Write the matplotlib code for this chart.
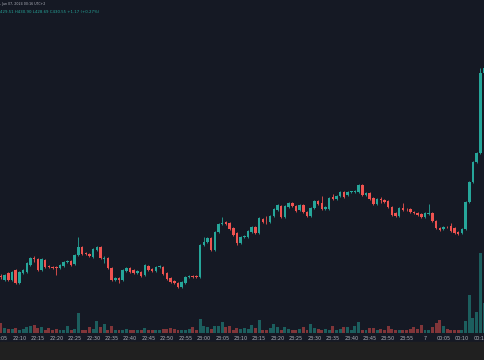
import numpy as np
import pandas as pd
import matplotlib
matplotlib.use("Agg")
import matplotlib.pyplot as plt

# 1-minute candles, first bar at 22:05
start_time = "2024-06-06 22:05"

opens = [12.4, 12.0, 12.7, 12.0, 13.0, 11.7, 12.7, 12.8, 13.5, 14.2,
         14.1, 13.0, 14.0, 13.4, 13.3, 13.3, 13.2, 13.4, 13.8, 13.9,
         13.6, 14.5, 15.3, 14.7, 14.6, 14.3, 15.0, 15.3, 14.1, 14.2,
         13.2, 12.0, 12.2, 12.0, 12.9, 13.2, 13.0, 12.7, 12.8, 12.5,
         13.4, 13.1, 12.9, 13.3, 13.3, 12.7, 12.2, 11.9, 11.7, 11.3,
         11.7, 12.3, 12.4, 12.4, 12.3, 15.5, 15.8, 16.2, 15.0, 16.8,
         17.6, 17.8, 17.7, 17.2, 16.7, 15.7, 16.3, 16.3, 16.8, 17.3,
         16.7, 18.1, 17.8, 17.8, 18.4, 19.0, 19.4, 18.3, 19.3, 19.7,
         19.4, 19.0, 19.5, 18.8, 18.4, 19.2, 19.9, 19.7, 19.1, 19.1,
         20.3, 20.1, 20.4, 20.8, 20.5, 20.8, 20.8, 20.8, 21.5, 20.5,
         20.7, 20.2, 19.6, 20.05, 20.0, 19.9, 19.3, 18.7, 18.4, 19.2,
         19.1, 19.1, 18.8, 18.7, 18.6, 18.3, 18.6, 18.7, 17.9, 17.2,
         17.1, 17.3, 17.4, 17.2, 16.8, 16.7, 17.1, 19.8, 21.8, 23.8,
         24.7, 32.7]
highs = [12.6, 12.6, 12.8, 12.9, 13.1, 12.9, 13.1, 13.8, 14.3, 14.4,
         14.2, 14.2, 14.1, 13.5, 13.4, 13.4, 13.6, 13.9, 14.0, 14.0,
         14.6, 16.3, 15.4, 14.8, 14.7, 15.2, 15.4, 15.4, 14.4, 14.3,
         13.3, 12.3, 12.3, 13.1, 13.3, 13.3, 13.1, 13.0, 12.9, 13.6,
         13.5, 13.2, 13.4, 13.5, 13.4, 12.8, 12.3, 12.0, 11.8, 11.9,
         12.4, 12.5, 12.5, 12.5, 15.6, 16.3, 16.3, 16.3, 16.9, 17.7,
         18.3, 17.9, 17.8, 17.3, 16.8, 16.4, 16.5, 17.0, 17.4, 17.4,
         18.3, 18.2, 18.4, 18.5, 19.2, 19.6, 19.5, 19.5, 19.8, 19.8,
         19.5, 19.6, 19.6, 18.9, 19.3, 20.0, 20.0, 20.4, 19.4, 20.3,
         20.6, 20.5, 20.9, 20.9, 20.9, 20.9, 21.0, 21.6, 21.6, 20.8,
         20.8, 20.3, 20.2, 20.3, 20.1, 20.0, 19.4, 18.8, 19.3, 19.7,
         19.2, 19.2, 18.9, 18.8, 18.7, 18.8, 19.6, 18.8, 18.0, 17.3,
         17.4, 17.4, 17.7, 17.3, 16.9, 17.2, 19.9, 21.9, 23.9, 24.8,
         33.2, 33.6]
lows = [12.1, 11.9, 11.9, 11.9, 11.6, 11.6, 12.6, 12.7, 13.4, 13.8,
        12.9, 12.9, 13.2, 13.2, 13.1, 12.5, 13.1, 13.3, 13.7, 13.4,
        13.5, 14.4, 14.5, 14.5, 14.3, 14.2, 14.9, 14.1, 13.7, 13.1,
        11.9, 11.9, 11.7, 11.9, 12.8, 12.7, 12.6, 12.6, 12.3, 12.4,
        12.9, 12.8, 12.8, 13.2, 12.5, 12.0, 11.7, 11.6, 11.2, 11.2,
        11.6, 12.2, 12.2, 12.2, 12.2, 15.4, 15.7, 14.9, 14.9, 16.7,
        17.5, 17.5, 17.0, 16.4, 15.5, 15.6, 16.2, 16.2, 16.7, 16.6,
        16.6, 17.7, 17.6, 17.7, 18.3, 18.9, 18.2, 18.2, 19.2, 19.3,
        18.8, 18.9, 18.7, 18.3, 18.3, 19.1, 19.5, 19.0, 19.0, 19.0,
        20.0, 20.0, 20.3, 20.2, 20.4, 20.7, 20.7, 20.7, 20.4, 20.4,
        20.0, 19.5, 19.5, 19.7, 19.7, 19.2, 18.4, 18.3, 18.3, 18.9,
        18.9, 18.7, 18.6, 18.4, 18.2, 18.2, 18.5, 17.8, 17.1, 16.9,
        17.0, 17.2, 16.8, 16.6, 16.5, 16.6, 17.0, 19.7, 21.7, 23.7,
        24.6, 32.6]
closes = [12.3, 12.5, 12.0, 12.8, 11.7, 12.8, 13.0, 13.7, 14.2, 14.1,
          13.0, 14.1, 13.3, 13.3, 13.2, 13.2, 13.5, 13.8, 13.9, 13.5,
          14.5, 15.3, 14.6, 14.6, 14.4, 15.1, 15.3, 14.2, 14.2, 13.2,
          12.0, 12.2, 12.0, 13.0, 13.2, 12.8, 12.7, 12.9, 12.4, 13.5,
          13.0, 12.9, 13.3, 13.35, 12.6, 12.1, 11.8, 11.7, 11.3, 11.8,
          12.3, 12.35, 12.3, 12.3, 15.5, 15.8, 16.2, 15.0, 16.8, 17.6,
          17.7, 17.6, 17.1, 16.5, 15.7, 16.3, 16.4, 16.9, 17.3, 16.7,
          18.2, 17.8, 17.75, 18.4, 19.1, 19.5, 18.3, 19.4, 19.7, 19.4,
          18.9, 19.5, 18.8, 18.4, 19.2, 19.9, 19.6, 19.1, 19.3, 20.2,
          20.1, 20.4, 20.8, 20.3, 20.8, 20.85, 20.9, 21.5, 20.5, 20.7,
          20.1, 19.6, 20.1, 20.0, 19.8, 19.3, 18.5, 18.4, 19.2, 19.0,
          19.05, 18.8, 18.7, 18.5, 18.3, 18.7, 18.7, 17.9, 17.2, 17.0,
          17.3, 17.25, 16.9, 16.7, 16.6, 17.1, 19.8, 21.8, 23.8, 24.7,
          32.7, 33.2]
volumes = [10, 5, 4, 4, 5, 3, 4, 6, 7, 8,
           5, 6, 3, 5, 3, 4, 3, 3, 7, 3,
           4, 20, 3, 3, 6, 4, 12, 6, 9, 3,
           7, 3, 3, 3, 4, 3, 3, 3, 3, 5,
           3, 3, 3, 3, 4, 4, 5, 4, 3, 3,
           3, 4, 6, 3, 14, 7, 6, 4, 7, 7,
           11, 6, 7, 3, 5, 4, 5, 4, 8, 5,
           13, 3, 3, 5, 9, 6, 3, 6, 4, 3,
           3, 4, 6, 3, 9, 5, 4, 3, 4, 3,
           7, 3, 4, 6, 6, 3, 7, 11, 3, 3,
           5, 5, 3, 4, 3, 7, 4, 3, 3, 3,
           3, 4, 6, 4, 8, 3, 3, 6, 10, 13,
           7, 4, 3, 3, 3, 3, 12, 38, 15, 21,
           80, 30]

header_line1 = ", Jun 07, 2024 00:16 UTC+2"
header_line2 = "429.51 H430.90 L428.69 C430.55 +1.17 (+0.27%)"

BG = "#151924"
UP = "#26a69a"
DOWN = "#ef5350"
UP_VOL = "#1c5e5e"
DOWN_VOL = "#813539"
TEXT = "#b2b5be"

times = pd.date_range(start_time, periods=len(opens), freq="1min")
x = np.arange(len(opens))
o = np.array(opens)
c = np.array(closes)
up = c >= o
colors = np.where(up, UP, DOWN)
vcolors = np.where(up, UP_VOL, DOWN_VOL)

fig = plt.figure(figsize=(4.85, 3.6), dpi=100, facecolor=BG)

# grey strip at the very bottom of the screenshot
fig.patches.append(plt.Rectangle((0, 0), 1, 18 / 360, transform=fig.transFigure,
                                 color="#202020", zorder=0))

ax = fig.add_axes([0, 27 / 360, 1, 333 / 360])
ax.set_facecolor(BG)
vax = ax.twinx()
ax.set_zorder(vax.get_zorder() + 1)
ax.patch.set_visible(False)

# volume overlay
vax.bar(x, volumes, width=0.8, color=vcolors, linewidth=0)
vax.set_ylim(0, 333)
vax.set_facecolor(BG)

# candles
ax.vlines(x, lows, highs, colors=colors, linewidth=0.6)
body = np.maximum(np.abs(c - o), 0.08)
ax.bar(x, body, bottom=np.minimum(o, c), width=0.68, color=colors, linewidth=0)
ax.set_ylim(6.7, 40)
ax.set_xlim(-0.27, 131.27)

# time axis labels every 5 minutes (the ones at the edges are cut, as in the screenshot)
tick_idx = [i for i in range(len(times)) if times[i].minute % 5 == 0]
tick_lab = [str(times[i].day) if times[i].hour == 0 and times[i].minute == 0
            else times[i].strftime("%H:%M") for i in tick_idx]
ax.set_xticks(tick_idx)
ax.set_xticklabels(tick_lab, fontsize=3.5, color=TEXT)
ax.tick_params(axis="x", length=0, pad=2.2)
ax.set_yticks([])
vax.set_yticks([])
for a in (ax, vax):
    for s in a.spines.values():
        s.set_visible(False)

fig.text(0.0, 1 - 4 / 360, header_line1, fontsize=2.3, color=TEXT, va="center", ha="left")
fig.text(0.0, 1 - 12 / 360, header_line2, fontsize=2.8, color=UP, va="center", ha="left")

fig.savefig("out.png", dpi=100, facecolor=BG)
